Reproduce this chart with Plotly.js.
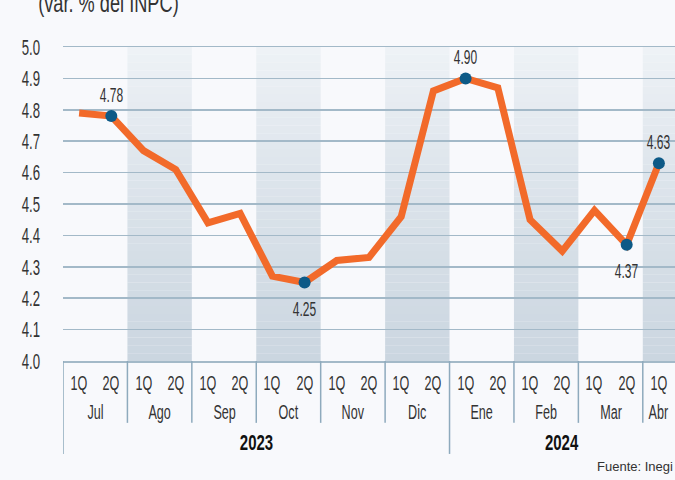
<!DOCTYPE html>
<html>
<head>
<meta charset="utf-8">
<script src="https://cdn.plot.ly/plotly-3.0.1.min.js"></script>
<style>html,body{margin:0;padding:0;background:#f8f9fc;}#chart{width:675px;height:480px;}</style>
</head>
<body>
<div id="chart"></div>
<script>
// ---- data ----
var quincenas = ["1Q","2Q","1Q","2Q","1Q","2Q","1Q","2Q","1Q","2Q","1Q","2Q","1Q","2Q","1Q","2Q","1Q","2Q","1Q"];
var months = ["Jul","Ago","Sep","Oct","Nov","Dic","Ene","Feb","Mar","Abr"];
var years = ["2023","2024"];
var yearMonthCount = [6, 4];
var inflation = [4.79,4.78,4.67,4.61,4.44,4.47,4.27,4.25,4.32,4.33,4.46,4.86,4.90,4.87,4.45,4.35,4.48,4.37,4.63];
var labelled = [1, 7, 12, 17, 18];
var labelSide = ["above","below","above","below","above"];
var yTicks = [4.0,4.1,4.2,4.3,4.4,4.5,4.6,4.7,4.8,4.9,5.0];
var titleText = "(var. % del INPC)";
var sourceText = "Fuente: Inegi";

var FONT = '"Liberation Sans", Arial, sans-serif';
var TXT = '#333333';
var SEP = '#8eaabd';
var n = quincenas.length;
var xs = quincenas.map(function(_, i){ return i; });

// ---- shapes: shaded alternating months (vertical gradient via bands) ----
var shapes = [];
var gradTop = [239,243,247], gradBot = [203,214,224];
var bands = 40;
for (var m = 1; m < months.length; m += 2) {
  var x0 = 2*m - 0.5, x1 = Math.min(2*m + 1.5, n - 0.5);
  for (var b = 0; b < bands; b++) {
    var t = (b + 0.5) / bands;
    var c = gradTop.map(function(v, k){ return Math.round(v + (gradBot[k]-v) * Math.pow(t, 0.8)); });
    shapes.push({type:'rect', layer:'below', xref:'x', yref:'paper', x0:x0, x1:x1,
      y0: 1 - (b+1)/bands, y1: 1 - b/bands, line:{width:0}, fillcolor:'rgb('+c.join(',')+')'});
  }
}
// month separators below axis
for (var m2 = 1; m2 < months.length; m2++) {
  var xb = 2*m2 - 0.5;
  var isYear = (m2 === yearMonthCount[0]);
  shapes.push({type:'line', xref:'x', yref:'paper', x0:xb, x1:xb, y0:0, y1: isYear ? -0.296 : -0.197,
    line:{color:SEP, width:1.5}});
}
shapes.push({type:'line', xref:'x', yref:'paper', x0:-0.5, x1:-0.5, y0:0, y1:-0.296, line:{color:SEP, width:1.5}});

// ---- annotations ----
var ann = [];
quincenas.forEach(function(q, i){
  ann.push({x:i, y:-0.067, xref:'x', yref:'paper', text:q, showarrow:false,
    font:{family:FONT, size:21, color:TXT}, xanchor:'center', yanchor:'middle'});
});
months.forEach(function(mo, k){
  var xc = Math.min(2*k + 0.5, n - 1);
  ann.push({x:xc, y:-0.16, xref:'x', yref:'paper', text:mo, showarrow:false,
    font:{family:FONT, size:21, color:TXT}, xanchor:'center', yanchor:'middle'});
});
var startM = 0;
years.forEach(function(yr, k){
  var xa = 2*startM - 0.5;
  var xbnd = Math.min(2*(startM + yearMonthCount[k]) - 0.5, n - 0.5);
  ann.push({x:(xa+xbnd)/2, y:-0.261, xref:'x', yref:'paper', text:'<b>'+yr+'</b>', showarrow:false,
    font:{family:FONT, size:22, color:'#111111'}, xanchor:'center', yanchor:'middle'});
  startM += yearMonthCount[k];
});
labelled.forEach(function(i, k){
  ann.push({x:i, y:inflation[i], xref:'x', yref:'y', text:inflation[i].toFixed(2), showarrow:false,
    font:{family:FONT, size:20, color:TXT}, xanchor:'center', yanchor:'middle',
    yshift: labelSide[k] === 'above' ? 21 : -26});
});
ann.push({x:1, y:-0.335, xref:'paper', yref:'paper', text:sourceText, showarrow:false,
  font:{family:FONT, size:13, color:TXT}, xanchor:'right', yanchor:'middle'});
ann.push({x:-0.093, y:1.14, xref:'paper', yref:'paper', text:titleText, showarrow:false,
  font:{family:FONT, size:26, color:TXT}, xanchor:'left', yanchor:'middle'});

var traces = [
  {x:xs, y:inflation, type:'scatter', mode:'lines', line:{color:'#f26a2a', width:7}, hoverinfo:'skip'},
  {x:labelled, y:labelled.map(function(i){return inflation[i];}), type:'scatter', mode:'markers',
   marker:{color:'#0d5a87', size:12}, hoverinfo:'skip'}
];

var layout = {
  width:675, height:480,
  margin:{l:63, r:0, t:47, b:119, pad:0},
  paper_bgcolor:'#f8f9fc', plot_bgcolor:'#f8f9fc',
  showlegend:false,
  xaxis:{range:[-0.5, n-0.5], showticklabels:false, showgrid:false, zeroline:false,
         showline:true, mirror:true, linecolor:'#a3b9c8', linewidth:1.5, ticks:''},
  yaxis:{range:[4.0, 5.0], tickvals:yTicks, ticktext:yTicks.map(function(v){return v.toFixed(1);}),
         showgrid:true, gridcolor:'#a3b9c8', gridwidth:1.5, zeroline:false, showline:false, ticks:'',
         ticklabelstandoff:22, tickfont:{family:FONT, size:22, color:TXT}},
  shapes:shapes,
  annotations:ann
};

// horizontally condense text (the reference uses a condensed typeface)
function condense(el, s){
  var bb = el.getBBox();
  var anchor = el.getAttribute('text-anchor') || 'start';
  var cx = anchor === 'middle' ? bb.x + bb.width/2 : (anchor === 'end' ? bb.x + bb.width : bb.x);
  var prev = el.getAttribute('transform') || '';
  el.setAttribute('transform', prev + ' translate(' + cx + ',0) scale(' + s + ',1) translate(' + (-cx) + ',0)');
}
Plotly.newPlot('chart', traces, layout, {staticPlot:true, displayModeBar:false}).then(function(gd){
  gd.querySelectorAll('text.annotation-text, .ytick text').forEach(function(el){
    var txt = el.textContent;
    if (txt === sourceText) return;
    if (years.indexOf(txt) >= 0) condense(el, 0.68);
    else if (txt === titleText) condense(el, 0.7);
    else condense(el, 0.6);
  });
});
</script>
</body>
</html>
